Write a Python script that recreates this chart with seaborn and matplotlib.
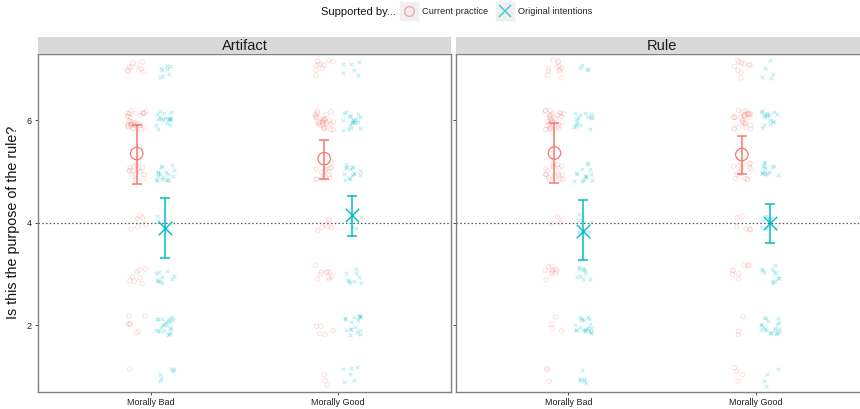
import numpy as np
import pandas as pd
import matplotlib
matplotlib.use("Agg")
import matplotlib.pyplot as plt
import seaborn as sns
from matplotlib.lines import Line2D
from matplotlib.legend_handler import HandlerTuple

sns.set_theme(style="white")
plt.rcParams["font.family"] = ["Liberation Sans", "DejaVu Sans"]

panels = ["Artifact", "Rule"]
conditions = ["Morally Bad", "Morally Good"]
groups = ["Current practice", "Original intentions"]
levels = [1, 2, 3, 4, 5, 6, 7]
y_ticks = [2, 4, 6]

# number of responses at each scale level 1..7
artifact_bad_current = [1, 7, 8, 6, 15, 30, 10]
artifact_bad_original = [6, 22, 10, 4, 18, 18, 8]
artifact_good_current = [3, 5, 10, 7, 14, 30, 10]
artifact_good_original = [6, 17, 9, 4, 15, 20, 6]
rule_bad_current = [3, 4, 10, 4, 18, 30, 12]
rule_bad_original = [6, 20, 10, 8, 14, 15, 4]
rule_good_current = [4, 3, 8, 6, 15, 28, 10]
rule_good_original = [4, 20, 12, 8, 14, 16, 5]

# group means with lower / upper error bar limits (Morally Bad, Morally Good)
artifact_current_mean = [5.35, 5.25]
artifact_current_low = [4.76, 4.86]
artifact_current_high = [5.91, 5.62]
artifact_original_mean = [3.90, 4.16]
artifact_original_low = [3.32, 3.75]
artifact_original_high = [4.49, 4.53]
rule_current_mean = [5.36, 5.33]
rule_current_low = [4.78, 4.96]
rule_current_high = [5.95, 5.70]
rule_original_mean = [3.84, 4.00]
rule_original_low = [3.28, 3.61]
rule_original_high = [4.45, 4.37]

counts = {
    ("Artifact", "Morally Bad", "Current practice"): artifact_bad_current,
    ("Artifact", "Morally Bad", "Original intentions"): artifact_bad_original,
    ("Artifact", "Morally Good", "Current practice"): artifact_good_current,
    ("Artifact", "Morally Good", "Original intentions"): artifact_good_original,
    ("Rule", "Morally Bad", "Current practice"): rule_bad_current,
    ("Rule", "Morally Bad", "Original intentions"): rule_bad_original,
    ("Rule", "Morally Good", "Current practice"): rule_good_current,
    ("Rule", "Morally Good", "Original intentions"): rule_good_original,
}
summary = {
    ("Artifact", "Current practice"): (artifact_current_mean, artifact_current_low, artifact_current_high),
    ("Artifact", "Original intentions"): (artifact_original_mean, artifact_original_low, artifact_original_high),
    ("Rule", "Current practice"): (rule_current_mean, rule_current_low, rule_current_high),
    ("Rule", "Original intentions"): (rule_original_mean, rule_original_low, rule_original_high),
}

colors = {"Current practice": "#F8766D", "Original intentions": "#00BFC4"}
dodge = {"Current practice": -0.075, "Original intentions": 0.075}

# long table of individual responses
rows = []
for (panel, cond, grp), cnt in counts.items():
    for lvl, n in zip(levels, cnt):
        rows += [(panel, cond, grp, lvl)] * n
resp = pd.DataFrame(rows, columns=["panel", "condition", "group", "rating"])

# jittered plotting positions (horizontal and vertical jitter)
rng = np.random.default_rng(11)
resp["xpos"] = (resp["condition"].map({c: i for i, c in enumerate(conditions)})
                + resp["group"].map(dodge)
                + rng.uniform(-0.05, 0.05, len(resp)))
resp["ypos"] = resp["rating"] + rng.uniform(-0.19, 0.19, len(resp))

means = []
for (panel, grp), (m, lo, hi) in summary.items():
    for i, cond in enumerate(conditions):
        means.append((panel, cond, grp, i + dodge[grp], m[i], lo[i], hi[i]))
means = pd.DataFrame(means, columns=["panel", "condition", "group", "x", "mean", "low", "high"])

W, H = 860, 409
fig = plt.figure(figsize=(W / 100, H / 100), dpi=100)

panel_left = [38.3, 456.0]
panel_w = 412.4
panel_top, panel_bottom = 54.0, 392.0
strip_top = 36.7

border = "#808080"
for p_i, panel in enumerate(panels):
    ax = fig.add_axes([panel_left[p_i] / W, (H - panel_bottom) / H,
                       panel_w / W, (panel_bottom - panel_top) / H])
    ax.set_facecolor("white")
    ax.axhline(4, color="#555555", lw=0.9, ls=(0, (1.2, 1.8)), zorder=1)

    for grp in groups:
        sub = resp[(resp["panel"] == panel) & (resp["group"] == grp)]
        c = colors[grp]
        if grp == "Current practice":
            sns.scatterplot(data=sub, x="xpos", y="ypos", ax=ax, marker="o", s=10,
                            facecolor="none", edgecolor=c, linewidth=0.6,
                            alpha=0.25, legend=False, zorder=2)
        else:
            sns.scatterplot(data=sub, x="xpos", y="ypos", ax=ax, marker="x", s=7,
                            color=c, linewidth=0.7, alpha=0.28,
                            legend=False, zorder=2)

        msub = means[(means["panel"] == panel) & (means["group"] == grp)]
        ax.errorbar(msub["x"], msub["mean"],
                    yerr=[msub["mean"] - msub["low"], msub["high"] - msub["mean"]],
                    fmt="none", ecolor=c, elinewidth=1.1, capsize=3.4,
                    capthick=1.1, zorder=3)
        if grp == "Current practice":
            sns.scatterplot(data=msub, x="x", y="mean", ax=ax, marker="o", s=80,
                            facecolor="none", edgecolor=c, linewidth=0.9,
                            legend=False, zorder=4)
        else:
            sns.scatterplot(data=msub, x="x", y="mean", ax=ax, marker="x", s=95,
                            color=c, linewidth=1.0, legend=False, zorder=4)

    ax.set_xlim(-0.6, 1.6)
    ax.set_ylim(0.70, 7.29)
    ax.set_xticks(range(len(conditions)))
    ax.set_xticklabels(conditions)
    ax.set_yticks(y_ticks)
    ax.set_xlabel("")
    ax.set_ylabel("")
    ax.tick_params(axis="both", length=2.5, width=0.6, color="#333333",
                   labelsize=6.5, labelcolor="#222222", pad=2,
                   bottom=True, left=True)
    if p_i == 1:
        ax.set_yticklabels([])
    for sp in ax.spines.values():
        sp.set_color(border)
        sp.set_linewidth(1.0)
        sp.set_visible(True)

    sax = fig.add_axes([panel_left[p_i] / W, (H - panel_top) / H,
                        panel_w / W, (panel_top - strip_top) / H])
    sax.set_facecolor("#D9D9D9")
    sax.set_xticks([])
    sax.set_yticks([])
    for sp in sax.spines.values():
        sp.set_visible(False)
    sax.text(0.5, 0.45, panel, ha="center", va="center", fontsize=10.5,
             color="#1A1A1A", transform=sax.transAxes)

fig.text(13 / W, 1 - 222.7 / H, "Is this the purpose of the rule?", rotation=90,
         ha="center", va="center", fontsize=10.3, color="#111111")

# legend across the top
fig.text(321 / W, 1 - 12 / H, "Supported by...", ha="left", va="center",
         fontsize=8, color="#111111")
key_bg = Line2D([], [], marker="s", ms=12.5, color="#F0F0F0", ls="")
h_cur = (key_bg, Line2D([], [], marker="o", ms=7, mfc="none",
                        mec=colors["Current practice"], mew=1.0, ls="", alpha=0.6))
h_org = (key_bg, Line2D([], [], marker="x", ms=9,
                        mec=colors["Original intentions"], mew=1.1, ls="", alpha=0.7))
fig.legend([h_cur, h_org], groups, handler_map={tuple: HandlerTuple(ndivide=1)},
           loc="center left", bbox_to_anchor=(400 / W, 1 - 12 / H), ncol=2,
           frameon=False, fontsize=6.7, handlelength=1.9, handletextpad=0.5,
           columnspacing=0.8, borderpad=0, borderaxespad=0)

fig.savefig("out.png", dpi=100)
